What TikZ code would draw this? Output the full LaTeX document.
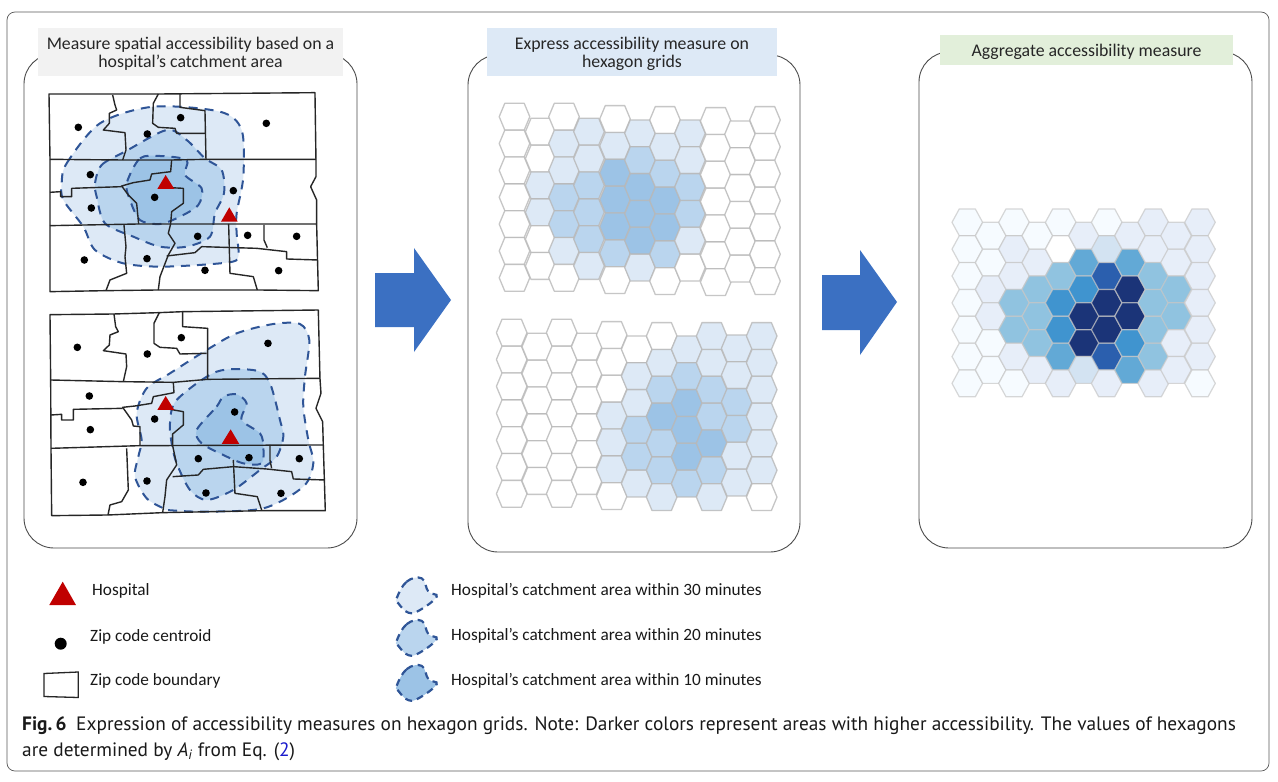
\documentclass[tikz,border=0pt]{standalone}
\usepackage{fontspec}
\setmainfont{Carlito}
\newfontfamily\capfont{PT Sans}
\definecolor{hW}{HTML}{FFFFFF}
\definecolor{hL}{HTML}{DDE9F6}
\definecolor{hM}{HTML}{BAD5EE}
\definecolor{hD}{HTML}{9CC3E6}
\definecolor{dashblue}{HTML}{2F5597}
\definecolor{arrowblue}{HTML}{3B70C2}
\definecolor{hosp}{HTML}{C00000}
\definecolor{ga}{HTML}{F6FBFF}
\definecolor{gb}{HTML}{E7EEF9}
\definecolor{gc}{HTML}{D3E3F2}
\definecolor{gd}{HTML}{90C3E0}
\definecolor{ge}{HTML}{62A9D6}
\definecolor{gf}{HTML}{4094CF}
\definecolor{gg}{HTML}{2B5FAE}
\definecolor{gh}{HTML}{1B3478}
\definecolor{linkblue}{HTML}{1A1ACC}
\definecolor{tgreen}{RGB}{226,239,218}
\def\hexW{15.3}
\def\hexT{9.7}
\newcommand\hexcol[3]{%
  \foreach \cc [count=\ii from 0] in {#3} {%
    \pgfmathsetmacro\yy{#2+26.85*\ii}%
    \draw[hexline,fill=\cc] (#1-\hexW,\yy) -- (#1-\hexT,\yy-13.4) -- (#1+\hexT,\yy-13.4) -- (#1+\hexW,\yy) -- (#1+\hexT,\yy+13.4) -- (#1-\hexT,\yy+13.4) -- cycle;
  }%
}
\newcommand\blob[2]{%
  \begin{scope}[shift={(#1,#2)},x=0.3333pt,y=-0.3333pt]
    \draw[catch,dash pattern=on 7pt off 5pt,line width=2.2pt,fill=\blobfill] plot[smooth cycle,tension=.7] coordinates {(50,100) (80,50) (125,40) (145,80) (170,95) (120,135) (85,143) (55,115)};
  \end{scope}
}
\tikzset{
  x=1pt,y=-1pt,
  frame/.style={draw=black!65,line width=.7pt,rounded corners=8pt,fill=white,inner sep=0pt},
  panel/.style={draw=black!70,line width=.9pt,rounded corners=30pt,fill=white,inner sep=0pt},
  titlebox/.style={inner sep=0pt,align=center,font=\fontsize{17.8}{18.5}\selectfont,text=black!85},
  hexline/.style={draw=black!28,draw opacity=.8,line width=1.3pt,line join=round},
  catch/.style={draw=dashblue,line width=2pt,dash pattern=on 9pt off 7pt},
  bound/.style={draw=black!85,line width=1.4pt,line join=round},
  leg/.style={anchor=west,inner sep=0pt,font=\fontsize{17.25}{19}\selectfont,text=black!90},
  capt/.style={anchor=base west,inner sep=0pt,font=\capfont\fontsize{19.35}{22}\selectfont,text=black!90},
  bigarrow/.style={fill=arrowblue,draw=none},
  zipdot/.style={fill=black},
  hospital/.style={fill=hosp,draw=none}
}
\begin{document}
\begin{tikzpicture}
\useasboundingbox (0,0) rectangle (1278,782);
\fill[white] (0,0) rectangle (1278,782);
\node[frame,minimum width=1262pt,minimum height=759pt] (outer) at (638,391.5) {};
\node[panel,minimum width=333pt,minimum height=494pt] (p1) at (190.5,301) {};
\node[panel,minimum width=332pt,minimum height=497pt] (p2) at (634,303.5) {};
\node[panel,minimum width=333pt,minimum height=496pt] (p3) at (1085.5,300) {};
\fill[black!5] (38,28) rectangle (343,76);
\fill[hL] (487,28) rectangle (777,76);
\fill[tgreen] (940,35) rectangle (1233,65);
\node[titlebox] (t1) at (190.5,54) {Measure spatial accessibility based on a\\hospital’s catchment area};
\node[titlebox] (t2) at (632,54) {Express accessibility measure on\\hexagon grids};
\node[titlebox] (t3) at (1086.5,51.5) {Aggregate accessibility measure};

% map 1
\begin{scope}[shift={(20,80)},x=0.3333pt,y=-0.3333pt]
\draw[catch,fill=hL] plot[smooth cycle,tension=.5] coordinates {(125,310) (140,250) (240,130) (400,80) (600,95) (665,150) (670,290) (650,400) (650,460) (655,530) (620,548) (430,560) (310,550) (225,510) (190,440) (130,360)};
\draw[catch,fill=hM] plot[smooth cycle,tension=.5] coordinates {(225,310) (245,255) (315,215) (440,150) (500,180) (555,235) (605,270) (612,340) (585,400) (570,470) (500,500) (420,500) (340,470) (255,430) (230,350)};
\draw[catch,fill=hD] plot[smooth cycle,tension=.5] coordinates {(320,310) (360,235) (420,228) (500,240) (495,285) (545,325) (535,375) (480,410) (420,432) (360,420) (330,360)};
\draw[bound] (87,42) -- (280,42) -- (415,42) -- (885,38) -- (888,240) -- (888,290) -- (872,320) -- (890,360) -- (890,432) -- (895,632) -- (712,630) -- (415,630) -- (258,632) -- (90,635) -- (90,437) -- (90,238) -- cycle;
\draw[bound] (90,238) -- (308,240) -- (455,240) -- (558,238) -- (888,238);
\draw[bound] (90,437) -- (356,432) -- (890,432);
\draw[bound] (278,45) -- (285,75) -- (290,90) -- (268,100) -- (268,130) -- (250,150) -- (315,158) -- (318,210) -- (308,240);
\draw[bound] (415,42) -- (400,70) -- (398,130) -- (415,142) -- (465,145) -- (470,160) -- (555,160);
\draw[bound] (480,42) -- (480,82) -- (555,92) -- (558,238);
\draw[bound] (455,240) -- (452,275) -- (395,282) -- (390,300) -- (340,308) -- (305,318) -- (325,345) -- (350,370) -- (356,432);
\draw[bound] (305,320) -- (155,325) -- (155,350) -- (122,350) -- (122,335) -- (90,337);
\draw[bound] (450,323) -- (490,325) -- (490,370) -- (455,395) -- (452,432) -- (445,460) -- (465,490) -- (445,525) -- (420,590) -- (415,630);
\draw[bound] (440,528) -- (525,518) -- (545,500) -- (710,505) -- (800,515) -- (800,537) -- (893,540);
\draw[bound] (312,435) -- (318,500) -- (315,530) -- (320,580) -- (270,600) -- (258,632);
\draw[bound] (626,432) -- (630,580) -- (700,590) -- (712,630);
\draw[bound] (732,435) -- (732,480) -- (742,503);
\foreach \p in {(175,142),(382,162),(482,113),(739,130),(211,284),(404,352),(214,384),(640,332),(533,469),(683,466),(830,469),(193,540),(381,536),(555,571),(776,572)} \fill[zipdot] \p circle (3.8pt);
\fill[hospital] (437,285) -- (412,327) -- (463,327) -- cycle;
\fill[hospital] (628,382) -- (603,425) -- (653,425) -- cycle;
\end{scope}

% map 2
\begin{scope}[shift={(20,300)},x=0.3333pt,y=-0.3333pt]
\draw[catch,fill=hL] plot[smooth cycle,tension=.5] coordinates {(345,530) (355,470) (365,420) (350,340) (380,265) (450,220) (560,150) (650,100) (760,72) (840,72) (868,120) (855,230) (850,320) (865,420) (880,490) (850,560) (730,625) (550,635) (440,630) (430,625) (380,595)};
\draw[catch,fill=hM] plot[smooth cycle,tension=.5] coordinates {(450,370) (470,300) (590,215) (710,212) (750,250) (780,360) (790,410) (770,470) (720,510) (640,570) (560,600) (510,570) (470,490) (455,430)};
\draw[catch,fill=hD] plot[smooth cycle,tension=.5] coordinates {(530,390) (590,320) (610,290) (650,283) (680,310) (665,360) (720,400) (730,440) (725,490) (670,490) (610,465) (545,430)};
\draw[bound] (90,44) -- (280,42) -- (415,38) -- (488,35) -- (895,30) -- (900,235) -- (903,280) -- (888,325) -- (908,365) -- (910,435) -- (916,632) -- (730,632) -- (428,638) -- (264,645) -- (95,647) -- (93,445) -- (92,240) -- cycle;
\draw[bound] (92,240) -- (310,245) -- (460,247) -- (563,238) -- (900,235);
\draw[bound] (93,445) -- (360,437) -- (910,435);
\draw[bound] (282,42) -- (287,80) -- (295,95) -- (270,105) -- (268,135) -- (250,152) -- (318,162) -- (320,200) -- (310,245);
\draw[bound] (418,38) -- (402,70) -- (402,130) -- (420,142) -- (470,145) -- (480,162) -- (560,160);
\draw[bound] (488,35) -- (488,80) -- (563,85) -- (563,238);
\draw[bound] (460,247) -- (462,278) -- (400,290) -- (395,310) -- (345,318) -- (308,322) -- (335,360) -- (340,378) -- (360,380) -- (360,437);
\draw[bound] (308,325) -- (160,328) -- (160,360) -- (125,360) -- (125,343) -- (93,345);
\draw[bound] (450,328) -- (490,335) -- (490,375) -- (458,402) -- (458,437) -- (465,470) -- (470,495) -- (440,540) -- (435,590) -- (428,638);
\draw[bound] (458,530) -- (535,525) -- (550,508) -- (640,500) -- (740,507) -- (815,515) -- (820,537) -- (915,540);
\draw[bound] (320,445) -- (325,570) -- (305,605) -- (270,615) -- (264,645);
\draw[bound] (640,480) -- (645,580) -- (712,590) -- (725,630);
\draw[bound] (750,435) -- (750,480) -- (755,505);
\foreach \p in {(172,142),(382,162),(484,113),(744,130),(208,288),(404,357),(211,389),(644,336),(535,476),(687,473),(838,476),(189,547),(381,543),(558,579),(783,580)} \fill[zipdot] \p circle (3.8pt);
\fill[hospital] (437,288) -- (412,330) -- (463,330) -- cycle;
\fill[hospital] (632,388) -- (605,432) -- (658,432) -- cycle;
\end{scope}

% arrows
\fill[bigarrow] (375,273) -- (414,273) -- (414,248) -- (451,300) -- (414,352) -- (414,327) -- (375,327) -- cycle;
\fill[bigarrow] (822,275) -- (860,275) -- (860,250) -- (897,302) -- (860,355) -- (860,330) -- (822,330) -- cycle;

% hexagon grid 1
\hexcol{514.5}{116.7}{hW,hW,hW,hW,hW,hW,hW}
\hexcol{540.7}{131.7}{hW,hW,hL,hL,hW,hW}
\hexcol{564}{116.7}{hW,hL,hL,hM,hM,hL,hW}
\hexcol{589}{131.7}{hL,hL,hM,hM,hM,hL}
\hexcol{615}{119}{hW,hL,hD,hD,hD,hM,hW}
\hexcol{640}{133.3}{hL,hM,hD,hD,hD,hL}
\hexcol{665}{120}{hW,hL,hM,hD,hD,hM,hW}
\hexcol{690}{133.3}{hL,hL,hM,hM,hL,hW}
\hexcol{715.7}{121}{hW,hW,hW,hW,hW,hW,hW}
\hexcol{740}{134.3}{hW,hW,hW,hW,hW,hW}
\hexcol{765}{120}{hW,hW,hW,hW,hW,hW,hW}

% hexagon grid 2
\hexcol{511.7}{332.7}{hW,hW,hW,hW,hW,hW,hW}
\hexcol{537.3}{346.7}{hW,hW,hW,hW,hW,hW}
\hexcol{561.7}{332.7}{hW,hW,hW,hW,hW,hW,hW}
\hexcol{586.7}{346.7}{hW,hW,hW,hW,hW,hW}
\hexcol{611.7}{335}{hW,hW,hW,hL,hL,hL,hW}
\hexcol{636.7}{349.3}{hW,hL,hL,hM,hM,hL}
\hexcol{661.7}{336}{hW,hL,hM,hD,hM,hM,hL}
\hexcol{686.7}{349.3}{hL,hM,hD,hD,hD,hM}
\hexcol{711.7}{336}{hL,hL,hM,hM,hD,hM,hL}
\hexcol{736.7}{348.3}{hL,hL,hM,hM,hL,hL}
\hexcol{761.7}{336}{hL,hL,hL,hL,hL,hL,hW}

% hexagon grid 3
\def\hexW{15.3}\def\hexT{8}
\begin{scope}[hexline/.style={draw=black!22,draw opacity=.7,line width=1.2pt,line join=round}]
\hexcol{967.3}{222.3}{ga,ga,ga,ga,ga,ga,ga}
\hexcol{990.7}{235.7}{ga,ga,gb,gb,ga,ga}
\hexcol{1014}{222.3}{ga,gb,gb,gd,gd,gb,ga}
\hexcol{1037.3}{235.7}{ga,gb,gd,gd,gd,gb}
\hexcol{1060.7}{222.3}{ga,hW,gd,gf,gf,ge,gb}
\hexcol{1084}{235.7}{gb,ge,gf,gh,gh,gc}
\hexcol{1106.7}{222.3}{ga,gc,gg,gh,gh,gg,gb}
\hexcol{1130}{235.7}{gb,ge,gh,gh,gf,ge}
\hexcol{1153.3}{222.3}{gb,gb,gd,gd,gd,gd,gb}
\hexcol{1176}{235.7}{gb,gb,gd,gd,gb,gb}
\hexcol{1200}{222.3}{gb,gb,gb,gb,gb,gb,ga}
\end{scope}

% legend
\fill[hospital] (62.7,581.7) -- (49.3,605) -- (76,605) -- cycle;
\fill[zipdot] (60.7,643.7) circle (6pt);
\draw[draw=black!85,line width=1.3pt] (44,673.5) -- (78.3,672) -- (78.3,697.5) -- (44,696.5) -- cycle;
\node[leg] (l1) at (92,591) {Hospital};
\node[leg] (l2) at (90,637) {Zip code centroid};
\node[leg] (l3) at (90,681) {Zip code boundary};
\def\blobfill{hL}\blob{380}{565}
\def\blobfill{hM}\blob{380}{607.5}
\def\blobfill{hD}\blob{380}{652.5}
\node[leg] (l4) at (451,591) {Hospital’s catchment area within 30 minutes};
\node[leg] (l5) at (451,636) {Hospital’s catchment area within 20 minutes};
\node[leg] (l6) at (451,681) {Hospital’s catchment area within 10 minutes};

% caption
\node[capt] (c1) at (22,730) {\textbf{Fig.\,6}\hspace{.5em}Expression of accessibility measures on hexagon grids. Note: Darker colors represent areas with higher accessibility. The values of hexagons};
\node[capt] (c2) at (22,756) {are determined by \textit{A}\textsubscript{\textit{i}} from Eq. (\textcolor{linkblue}{2})};
\end{tikzpicture}
\end{document}
